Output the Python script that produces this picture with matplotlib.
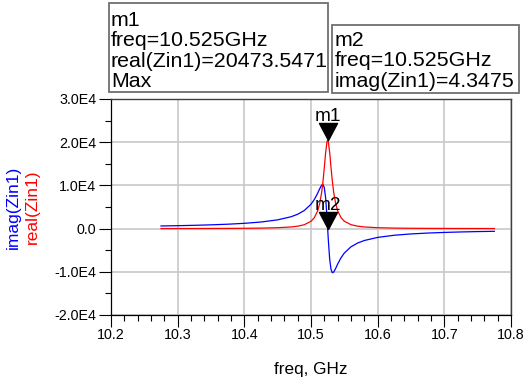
import matplotlib
matplotlib.use("Agg")
import matplotlib.pyplot as plt
from matplotlib.patches import Rectangle
from matplotlib.ticker import MultipleLocator

W, H = 526, 380

# data (freq in GHz, impedance in ohms)
freq = [10.275, 10.300, 10.325, 10.350, 10.375, 10.400, 10.425, 10.450,
        10.470, 10.480, 10.490, 10.500, 10.505, 10.510, 10.513, 10.516,
        10.518, 10.520, 10.522, 10.524, 10.525, 10.526, 10.528, 10.530,
        10.532, 10.534, 10.537, 10.540, 10.545, 10.550, 10.560, 10.570,
        10.580, 10.600, 10.625, 10.650, 10.675, 10.700, 10.725, 10.750,
        10.775]
real_zin = [18, 22, 28, 37, 51, 73, 114, 202,
            374, 554, 900, 1694, 2530, 4105, 5766, 8410,
            10963, 14193, 17660, 20118, 20473.5471, 20118, 17661, 14197,
            10970, 8419, 5777, 4118, 2542, 1702, 906, 558,
            378, 205, 116, 75, 52, 38, 29, 23,
            19]
imag_zin = [608, 676, 761, 871, 1016, 1220, 1523, 2025,
            2740, 3320, 4196, 5640, 6739, 8197, 9208, 10072,
            10211, 9441, 7048, 2676, 4.3475, -2675, -7046, -9440,
            -10211, -10074, -9214, -8207, -6752, -5652, -4210, -3334,
            -2754, -2039, -1537, -1234, -1031, -885, -776, -690,
            -622]

ytick_vals = [-2e4, -1e4, 0, 1e4, 2e4, 3e4]
ytick_labels = ["-2.0E4", "-1.0E4", "0.0", "1.0E4", "2.0E4", "3.0E4"]

m1_lines = ["m1", "freq=10.525GHz", "real(Zin1)=20473.5471", "Max"]
m2_lines = ["m2", "freq=10.525GHz", "imag(Zin1)=4.3475"]
m1_freq, m1_val = 10.525, 20473.5471
m2_freq, m2_val = 10.525, 4.3475


def fx(x):
    return x / W


def fy(y):
    return 1 - y / H


plt.rcParams["font.family"] = ["Liberation Sans", "DejaVu Sans"]

fig = plt.figure(figsize=(W / 100, H / 100), dpi=100)
ax = fig.add_axes([fx(111), fy(315), fx(511) - fx(111), fy(99) - fy(315)])

ax.plot(freq, imag_zin, color="#0000ff", lw=0.9)
ax.plot(freq, real_zin, color="#ff0000", lw=0.9)

ax.set_xlim(10.2, 10.8)
ax.set_ylim(-2e4, 3e4)
ax.xaxis.set_major_locator(MultipleLocator(0.1))
ax.xaxis.set_minor_locator(MultipleLocator(0.02))
ax.yaxis.set_minor_locator(MultipleLocator(5e3))
ax.set_yticks(ytick_vals)
ax.set_yticklabels(ytick_labels)
ax.set_xticks([10.2, 10.3, 10.4, 10.5, 10.6, 10.7, 10.8])
ax.set_xticklabels(["10.2", "10.3", "10.4", "10.5", "10.6", "10.7", "10.8"])

ax.grid(True, which="major", color="#c8c8c8", lw=1.2)
ax.set_axisbelow(True)
ax.tick_params(which="major", length=8.6, width=0.8, labelsize=10.3)
ax.tick_params(which="minor", length=4.3, width=0.8)
ax.tick_params(axis="x", which="major", pad=1)
ax.tick_params(axis="y", which="major", pad=2)
for side in ["left", "bottom"]:
    ax.spines[side].set_color("black")
    ax.spines[side].set_linewidth(0.9)
for side in ["top", "right"]:
    ax.spines[side].set_color("#404040")
    ax.spines[side].set_linewidth(1.0)

ax.set_xlabel("freq, GHz", fontsize=12.3, labelpad=14)

# two coloured y labels side by side
fig.text(fx(13), fy(207), "imag(Zin1)", color="#0000ff", fontsize=12.5,
         rotation=90, ha="center", va="center")
fig.text(fx(32), fy(207), "real(Zin1)", color="#ff0000", fontsize=12.5,
         rotation=90, ha="center", va="center")

# marker triangles, tip on the data point
tri = [(0, 0), (-0.53, 1), (0.53, 1), (0, 0)]
for mf, mv, name in [(m1_freq, m1_val, "m1"), (m2_freq, m2_val, "m2")]:
    ax.plot([mf], [mv], marker=tri, ms=24.5, color="black", mec="black",
            clip_on=False)
    ax.annotate(name, xy=(mf, mv), xytext=(0, 13.5),
                textcoords="offset points", ha="center", va="baseline",
                fontsize=13.7, annotation_clip=False)

# marker readout boxes
fig.add_artist(Rectangle((fx(109), fy(92)), fx(328) - fx(109),
                         fy(3) - fy(92), transform=fig.transFigure,
                         fill=False, edgecolor="#707070", lw=1.3))
fig.add_artist(Rectangle((fx(332), fy(93)), fx(519) - fx(332),
                         fy(25) - fy(93), transform=fig.transFigure,
                         fill=False, edgecolor="#707070", lw=1.3))
for i, line in enumerate(m1_lines):
    fig.text(fx(111), fy(26 + 20.4 * i), line, fontsize=15.4,
             va="baseline", ha="left")
for i, line in enumerate(m2_lines):
    fig.text(fx(335), fy(46 + 20.4 * i), line, fontsize=15.4,
             va="baseline", ha="left")

fig.savefig("out.png", dpi=100)
